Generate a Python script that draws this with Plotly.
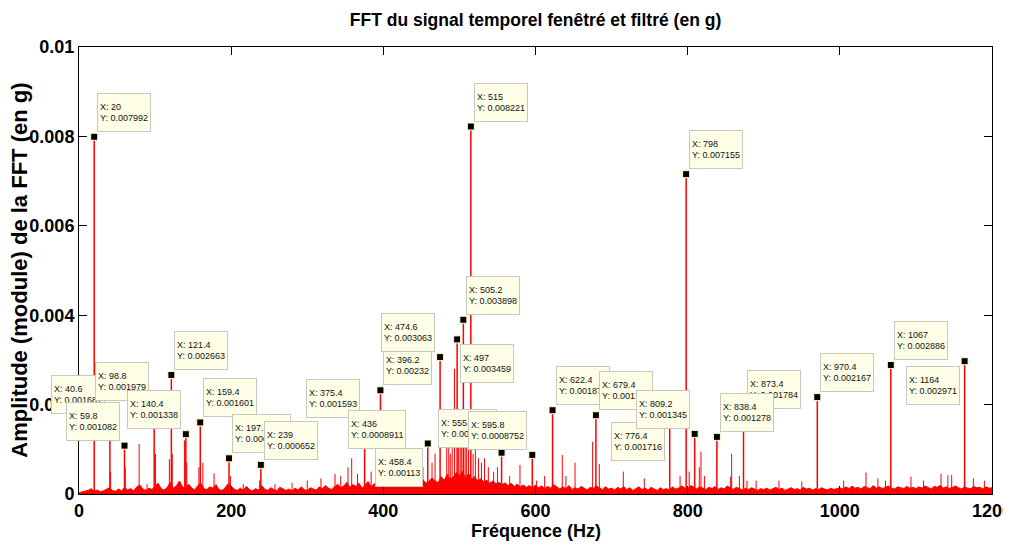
import plotly.graph_objects as go

# ---------------- text ----------------
title_text = "FFT du signal temporel fenêtré et filtré (en g)"
x_title = "Fréquence (Hz)"
y_title = "Amplitude (module) de la FFT (en g)"

x_ticks = [0, 200, 400, 600, 800, 1000, 1200]
x_tick_labels = ["0", "200", "400", "600", "800", "1000", "1200"]
y_ticks = [0, 0.002, 0.004, 0.006, 0.008, 0.01]
y_tick_labels = ["0", "0.002", "0.004", "0.006", "0.008", "0.01"]

# ---------------- data tips (peaks with labels) ----------------
tip_freq = [40.6, 98.8, 59.8, 140.4, 121.4, 159.4, 197.2, 239, 20,
            375.4, 396.2, 474.6, 436, 458.4, 555.4, 595.8, 497, 505.2, 515,
            622.4, 679.4, 776.4, 809.2, 873.4, 838.4, 798, 970.4, 1067, 1164]
tip_amp = [0.001681, 0.001979, 0.001082, 0.001338, 0.002663, 0.001601, 0.0007987, 0.000652, 0.007992,
           0.001593, 0.00232, 0.003063, 0.0008911, 0.00113, 0.0009237, 0.0008752, 0.003459, 0.003898, 0.008221,
           0.001874, 0.001762, 0.001716, 0.001345, 0.001784, 0.001278, 0.007155, 0.002167, 0.002886, 0.002971]
tip_side = ["NW", "NW", "NW", "NW", "NE", "NE", "NE", "NE", "NE",
            "NW", "NE", "NW", "NW", "SW", "NW", "NW", "SE", "NE", "NE",
            "NE", "NE", "SW", "NW", "NE", "NE", "NE", "NE", "NE", "SW"]

# ---------------- secondary spectral lines (no label) ----------------
sec_freq = [79, 89.4, 100.6, 118.8, 138.6, 162.8, 177.5, 216, 257.6, 336.5,
            353.6, 358.4, 398.5, 426, 430, 440, 447, 452, 464, 468,
            483.3, 486, 488, 490.5, 493.5, 499, 501, 503, 507.5, 509.5,
            512, 518, 521, 525, 529, 533, 538, 545, 550, 566,
            579.6, 601.5, 612, 635.2, 640, 652, 675.1, 683.9, 715.4, 743,
            790, 802, 815.3, 817.5, 822, 856.5, 857.8, 868, 878, 890,
            920, 950, 1005, 1034.4, 1050, 1060, 1093.5, 1110, 1133, 1142,
            1147, 1175.5, 1190, 60.8, 41.5, 122.6, 141.6, 157.6, 199, 237.4,
            280, 300, 318, 344, 366, 384, 408, 414]
sec_amp = [0.00112, 0.00022, 0.0009, 0.00078, 0.0012, 0.0007, 0.00046, 0.00022, 0.00022, 0.00045,
           0.0006, 0.0008, 0.0012, 0.0006, 0.0008, 0.0005, 0.0007, 0.0006, 0.0007, 0.0009,
           0.00106, 0.0012, 0.0009, 0.0015, 0.0028, 0.0016, 0.0019, 0.0012, 0.0014, 0.00106,
           0.0015, 0.0009, 0.0011, 0.0008, 0.0007, 0.0008, 0.0006, 0.0005, 0.0006, 0.0004,
           0.00065, 0.0003, 0.0004, 0.00087, 0.0004, 0.0007, 0.00117, 0.00067, 0.0005, 0.00035,
           0.0004, 0.0005, 0.0006, 0.00095, 0.0004, 0.00039, 0.0009, 0.0004, 0.0003, 0.0003,
           0.0003, 0.00028, 0.0003, 0.00048, 0.00035, 0.0003, 0.00039, 0.0003, 0.00045, 0.00042,
           0.00043, 0.00035, 0.0003, 0.0006, 0.0005, 0.0009, 0.0007, 0.0006, 0.0004, 0.0003,
           0.00025, 0.0003, 0.00035, 0.0004, 0.00045, 0.0005, 0.00055, 0.0005]

# ---------------- noise floor (1e-4 g), one value per 4 Hz bin ----------------
floor_step_hz = 4
floor_amp_e4 = [
    0.3, 0.5, 0.6, 0.8, 1.2, 0.6, 0.9, 0.5, 0.7, 1.0, 1.4, 0.8, 0.6, 1.1, 0.7, 1.5, 0.9, 1.2, 0.7, 1.6, 2.0, 1.1, 0.8, 1.3, 1.0,
    1.8, 2.4, 1.2, 0.9, 1.5, 2.6, 1.3, 1.8, 2.9, 1.6, 1.1, 2.2, 1.4, 0.9, 1.8, 2.5, 1.2, 1.0, 1.6, 1.3, 2.1, 1.0, 0.8, 1.4, 2.3,
    1.6, 1.1, 0.8, 1.3, 0.9, 1.7, 1.0, 0.7, 1.2, 0.9, 1.9, 1.1, 0.8, 1.4, 1.0, 0.7, 1.5, 1.2, 0.8, 1.1, 0.7, 1.3, 0.9, 1.6, 1.0,
    0.8, 1.4, 1.1, 0.9, 1.6, 1.2, 1.9, 1.3, 1.0, 1.7, 2.2, 1.4, 1.8, 2.6, 1.5, 2.1, 1.7, 2.4, 1.3, 1.9, 2.8, 1.6, 2.3, 1.8, 3.1,
    2.0, 1.6, 2.4, 1.8, 2.9, 2.1, 1.7, 2.6, 3.0, 1.9, 2.3, 2.7, 2.0, 3.2, 2.4, 2.8, 3.6, 2.9, 2.5, 3.9, 3.0, 4.4, 3.3, 3.8, 4.8,
    4.0, 5.1, 3.5, 4.6, 3.2, 3.9, 2.9, 3.4, 2.7, 3.1, 2.4, 2.9, 2.3, 2.6, 2.1, 2.5, 1.9, 2.4, 1.7, 2.2, 1.6, 2.0, 1.5, 1.9, 1.4,
    2.0, 1.4, 1.8, 1.2, 1.7, 1.3, 2.1, 1.5, 1.1, 1.6, 1.2, 1.9, 1.0, 1.4, 1.1, 1.7, 1.3, 0.9, 1.5, 1.2, 1.8, 1.4, 1.0, 1.6, 1.1,
    1.3, 0.9, 1.5, 1.1, 1.7, 1.0, 1.4, 0.8, 1.2, 1.6, 1.0, 1.3, 0.9, 1.5, 1.1, 0.8, 1.4, 1.0, 1.2, 0.9, 1.6, 1.1, 1.3, 1.8, 1.4,
    1.2, 1.9, 1.4, 1.1, 1.6, 1.3, 1.0, 1.5, 1.2, 1.7, 1.0, 1.4, 1.1, 1.8, 1.3, 1.0, 1.5, 1.2, 0.9, 1.3, 1.0, 1.4, 1.1, 0.8, 1.2,
    1.0, 1.3, 0.9, 1.2, 1.5, 1.0, 1.3, 0.8, 1.1, 1.4, 1.0, 1.2, 0.9, 1.5, 1.1, 1.3, 0.9, 1.2, 1.0, 1.4, 1.1, 0.9, 1.3, 1.0, 1.2,
    1.4, 1.1, 1.6, 1.2, 1.8, 1.3, 1.5, 1.1, 1.7, 1.4, 1.2, 1.9, 1.3, 1.6, 1.2, 1.5, 1.8, 1.3, 1.1, 1.6, 1.4, 1.2, 1.7, 1.3, 1.5,
    1.2, 1.6, 1.3, 1.8, 1.4, 1.1, 1.7, 1.5, 1.9, 1.3, 1.6, 1.2, 1.5, 1.8, 1.4, 1.1, 1.6, 1.3, 1.2, 1.7, 1.4, 1.5, 1.1, 1.6, 1.3,
    1.4,
]

# ---------------- styles ----------------
RED = "#FF0000"
FONT = "Liberation Sans, Arial, sans-serif"
FIG_W, FIG_H = 1011, 550  # page body adds an 8 px offset; margins compensate

floor_freq = [i * floor_step_hz for i in range(len(floor_amp_e4))]
floor_amp = [v * 1e-4 for v in floor_amp_e4]


def stems(freqs, amps):
    xs, ys = [], []
    for f, a in zip(freqs, amps):
        xs += [f, f, None]
        ys += [0, a, None]
    return xs, ys


fig = go.Figure()

fig.add_trace(go.Scatter(x=floor_freq, y=floor_amp, mode="lines",
                         line=dict(color=RED, width=1), fill="tozeroy",
                         fillcolor=RED, hoverinfo="skip", showlegend=False))

sx, sy = stems(sec_freq, sec_amp)
fig.add_trace(go.Scatter(x=sx, y=sy, mode="lines", line=dict(color=RED, width=1),
                         hoverinfo="skip", showlegend=False))

tx, ty = stems(tip_freq, tip_amp)
fig.add_trace(go.Scatter(x=tx, y=ty, mode="lines", line=dict(color=RED, width=1.5),
                         hoverinfo="skip", showlegend=False))

fig.add_trace(go.Scatter(x=tip_freq, y=tip_amp, mode="markers",
                         marker=dict(symbol="square", size=7, color="black",
                                     line=dict(color="#FFFFC8", width=1)),
                         hoverinfo="skip", showlegend=False))

side_cfg = {
    "NE": dict(xanchor="left", xshift=3, yanchor="bottom", yshift=5),
    "NW": dict(xanchor="right", xshift=-5, yanchor="bottom", yshift=5),
    "SE": dict(xanchor="left", xshift=3, yanchor="top", yshift=-5),
    "SW": dict(xanchor="right", xshift=-5, yanchor="top", yshift=-5),
}

for f, a, s in zip(tip_freq, tip_amp, tip_side):
    fig.add_annotation(x=f, y=a, xref="x", yref="y", showarrow=False,
                       text=f"X: {f:g}<br>Y: {a:.4g}", align="left",
                       height=33, valign="middle",
                       font=dict(family=FONT, size=9, color="#111111"),
                       bgcolor="#FFFFE8", bordercolor="#C8C8C0", borderwidth=1,
                       borderpad=2, **side_cfg[s])

# axis titles as annotations placed like the reference
fig.add_annotation(text=x_title, xref="paper", yref="paper", x=0.5, y=-0.083,
                   xanchor="center", yanchor="middle", showarrow=False,
                   font=dict(family=FONT, size=18, color="black", weight="bold"))
fig.add_annotation(text=y_title, xref="paper", yref="paper", x=-0.0655, y=0.5,
                   xanchor="center", yanchor="middle", textangle=-90, showarrow=False,
                   font=dict(family=FONT, size=22, color="black", weight="bold"))

fig.update_layout(
    width=FIG_W, height=FIG_H,
    margin=dict(l=71, r=27, t=39, b=64, autoexpand=False),
    paper_bgcolor="white", plot_bgcolor="white",
    title=dict(text=title_text, x=0.5, xref="paper", xanchor="center",
               y=1 - 12 / FIG_H, yref="container", yanchor="middle",
               font=dict(family=FONT, size=17.5, color="black", weight="bold")),
    xaxis=dict(range=[0, 1200], tickvals=x_ticks, ticktext=x_tick_labels,
               ticks="inside", ticklen=8, tickwidth=1, tickcolor="black",
               showline=True, linecolor="black", linewidth=1, mirror="ticks",
               showgrid=False, zeroline=False, automargin=False,
               ticklabeloverflow="allow",
               tickfont=dict(family=FONT, size=18, color="black", weight="bold")),
    yaxis=dict(range=[0, 0.01], tickvals=y_ticks, ticktext=y_tick_labels,
               ticks="inside", ticklen=8, tickwidth=1, tickcolor="black",
               showline=True, linecolor="black", linewidth=1, mirror="ticks",
               showgrid=False, zeroline=False, automargin=False,
               ticklabeloverflow="allow",
               tickfont=dict(family=FONT, size=18, color="black", weight="bold")),
)

fig.write_html("out.html")
